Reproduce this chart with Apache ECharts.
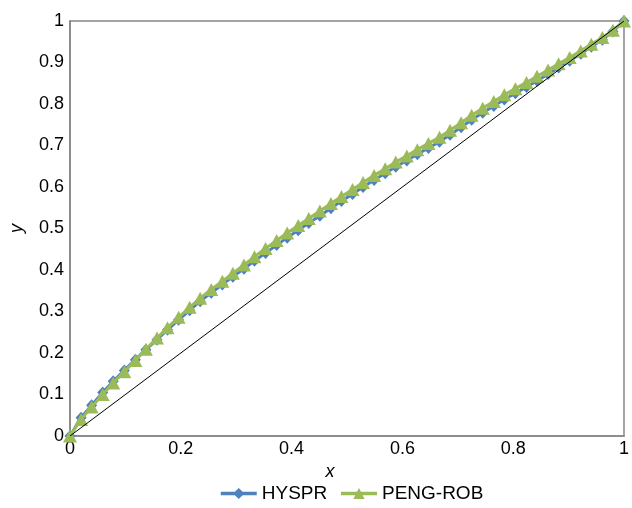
<!DOCTYPE html>
<html lang="en">
	<head>
		<meta charset="utf-8" />
		<title>y-x diagram</title>
	</head>
	<body style="margin: 0;">
		<div id="main" style="width: 632px; height: 508px;"></div>

		<script src="https://cdn.jsdelivr.net/npm/echarts@6/dist/echarts.min.js"></script>
		<script type="text/javascript">
			// liquid mole fraction x
			const xValues = [
				0.000, 0.020, 0.039, 0.059, 0.078, 0.098, 0.118, 0.137, 0.157, 0.176,
				0.196, 0.216, 0.235, 0.255, 0.275, 0.294, 0.314, 0.333, 0.353, 0.373,
				0.392, 0.412, 0.431, 0.451, 0.471, 0.490, 0.510, 0.529, 0.549, 0.569,
				0.588, 0.608, 0.627, 0.647, 0.667, 0.686, 0.706, 0.725, 0.745, 0.765,
				0.784, 0.804, 0.824, 0.843, 0.863, 0.882, 0.902, 0.922, 0.941, 0.961,
				0.980, 1.000
			];
			// vapour mole fraction y, HYSPR model
			const hysprY = [
				0.000, 0.044, 0.074, 0.105, 0.132, 0.158, 0.184, 0.208, 0.232, 0.256,
				0.280, 0.303, 0.325, 0.345, 0.365, 0.384, 0.403, 0.422, 0.441, 0.460,
				0.478, 0.496, 0.513, 0.531, 0.549, 0.566, 0.583, 0.600, 0.617, 0.633,
				0.649, 0.664, 0.679, 0.694, 0.709, 0.726, 0.744, 0.762, 0.779, 0.795,
				0.811, 0.826, 0.841, 0.856, 0.872, 0.888, 0.904, 0.921, 0.938, 0.955,
				0.975, 1.000
			];
			// vapour mole fraction y, PENG-ROB model
			const pengY = [
				0.000, 0.040, 0.070, 0.100, 0.128, 0.155, 0.182, 0.209, 0.236, 0.261,
				0.286, 0.310, 0.332, 0.353, 0.373, 0.392, 0.412, 0.432, 0.452, 0.471,
				0.489, 0.507, 0.524, 0.542, 0.560, 0.577, 0.594, 0.611, 0.628, 0.644,
				0.660, 0.675, 0.690, 0.705, 0.720, 0.737, 0.755, 0.773, 0.790, 0.806,
				0.822, 0.837, 0.852, 0.867, 0.882, 0.897, 0.912, 0.928, 0.944, 0.960,
				0.978, 1.000
			];
			const diagonal = [[0, 0], [1, 1]];
			const xTicks = ['0', '0.2', '0.4', '0.6', '0.8', '1'];
			const yTicks = ['0', '0.1', '0.2', '0.3', '0.4', '0.5', '0.6', '0.7', '0.8', '0.9', '1'];

			const pairs = (ys) => xValues.map((x, i) => [x, ys[i]]);
			const font = 'Liberation Sans, Arial, sans-serif';

			const myChart = echarts.init(document.getElementById('main'));

			const option = {
				animation: false,
				textStyle: { fontFamily: font, color: '#000' },
				grid: {
					left: 68, right: 5, top: 21, bottom: 72,
					show: true, borderColor: '#868686', borderWidth: 1.5,
				},
				legend: {
					data: ['HYSPR', 'PENG-ROB'],
					left: 214,
					bottom: 0,
					itemWidth: 36,
					itemHeight: 14,
					itemGap: 12,
					lineStyle: { width: 3.5 },
					textStyle: { fontSize: 19, color: '#000', fontFamily: font },
				},
				xAxis: {
					type: 'value', min: 0, max: 1, interval: 0.2,
					name: 'x', nameLocation: 'middle', nameGap: 26,
					nameTextStyle: { fontStyle: 'italic', fontSize: 18, color: '#000', padding: [0, 34, 0, 0] },
					axisLine: { lineStyle: { color: '#868686', width: 1.5 } },
					axisTick: { show: false },
					splitLine: { show: false },
					axisLabel: {
						fontSize: 18, color: '#000', margin: 4,
						formatter: (v) => xTicks[Math.round(v / 0.2)],
					},
				},
				yAxis: {
					type: 'value', min: 0, max: 1, interval: 0.1,
					name: 'y', nameLocation: 'middle', nameGap: 44,
					nameTextStyle: { fontStyle: 'italic', fontSize: 18, color: '#000' },
					axisLine: { show: true, lineStyle: { color: '#868686', width: 1.5 } },
					axisTick: { show: false },
					splitLine: { show: false },
					axisLabel: {
						fontSize: 18, color: '#000', margin: 6,
						formatter: (v) => yTicks[Math.round(v / 0.1)],
					},
				},
				series: [
					{
						name: 'HYSPR', type: 'line', data: pairs(hysprY),
						symbol: 'diamond', symbolSize: [11, 12],
						itemStyle: { color: '#4F81BD' },
						lineStyle: { color: '#4F81BD', width: 3 },
						z: 2,
					},
					{
						name: 'PENG-ROB', type: 'line', data: pairs(pengY),
						symbol: 'triangle', symbolSize: [14, 13],
						itemStyle: { color: '#9BBB59' },
						lineStyle: { color: '#9BBB59', width: 3 },
						z: 3,
					},
					{
						name: 'diagonal', type: 'line', data: diagonal,
						symbol: 'none', silent: true,
						lineStyle: { color: '#000', width: 1 },
						z: 4,
					},
				],
			};

			myChart.setOption(option);
		</script>
	</body>
</html>
